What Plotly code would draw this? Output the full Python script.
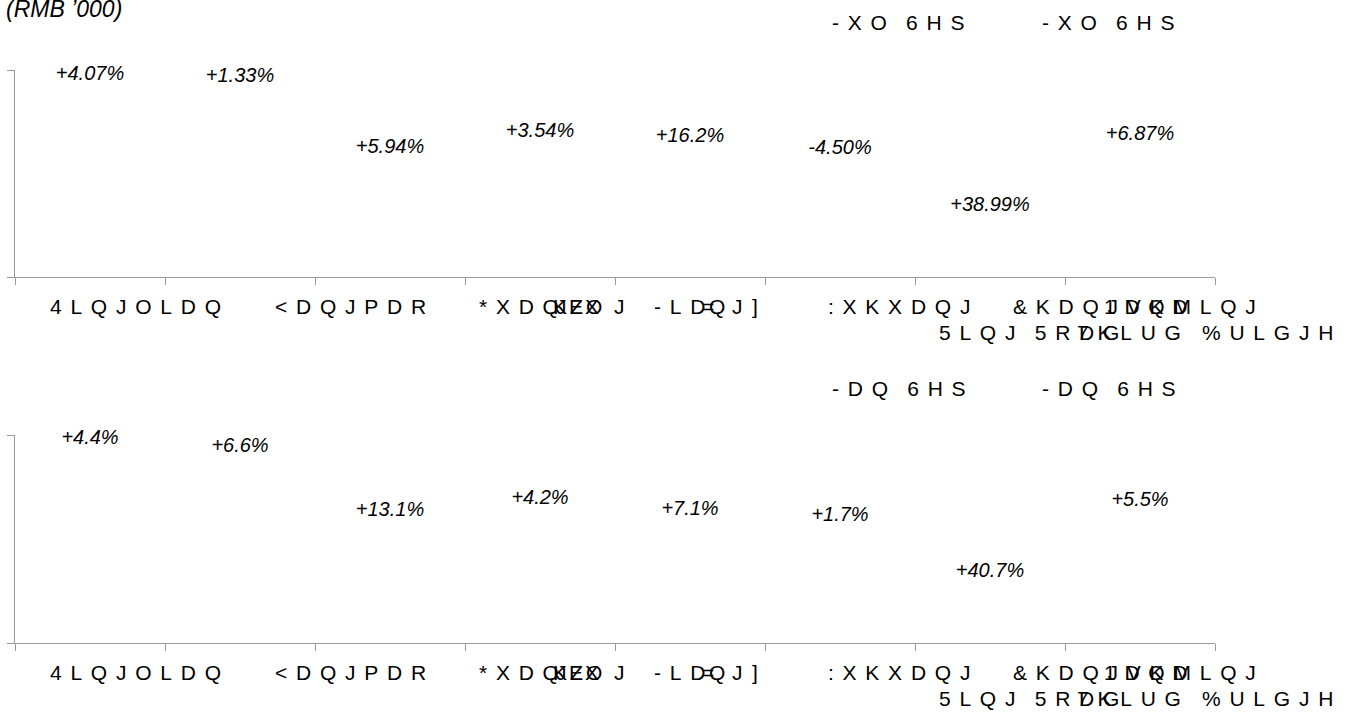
import plotly.graph_objects as go

# ---- data ----
# relative bar heights (bars themselves are drawn invisible in the source)
top_values = [92.0, 90.8, 56.5, 64.3, 61.8, 55.8, 28.5, 62.8]
top_growth = ["+4.07%", "+1.33%", "+5.94%", "+3.54%", "+16.2%", "-4.50%", "+38.99%", "+6.87%"]
bottom_values = [92.5, 88.5, 57.7, 63.5, 58.2, 55.3, 28.4, 62.5]
bottom_growth = ["+4.4%", "+6.6%", "+13.1%", "+4.2%", "+7.1%", "+1.7%", "+40.7%", "+5.5%"]

unit_label = "(RMB \u2019000)"
top_header = "-XO 6HS"
bottom_header = "-DQ 6HS"

# category labels as they appear (text pieces, some overlapping)
label_row1 = ["4LQJOLDQ", "<DQJPDR", "*XDQ", "K", "J", "E", "Z", "X", "O", "J",
              "-LD", "=", "Q", "J", "]", ":XKXDQJ", "&KDQJVKD", "1DQMLQJ"]
label_row2 = ["5LQJ 5RDG", "7KLUG", "%ULGJH"]

# layout positions (pixels) for the text pieces
row1_x = [48, 273, 477, 551, 554, 567, 568, 583, 584, 612,
          652, 700, 707, 730, 750, 826, 1011, 1102]
row2_x = [937, 1075, 1200]
header_x = [830, 1040]

FONT = "Liberation Sans, Arial, sans-serif"
AXIS_GREY = "#999999"
W, H = 1352, 713
L, R, T, B = 15, 137, 70, 70
PLOT_H = H - T - B


def spaced(s):
    # emulate the wide letter tracking of the source
    track = "\u2004\u200a"
    words = s.split(" ")
    return (track + "\u2002").join(track.join(w) for w in words)


def px(x):
    return (x - L) / (W - L - R)


def py(y):
    return (H - B - y) / PLOT_H


fig = go.Figure()
cats = list(range(8))
for vals, labels, xa, ya in [(top_values, top_growth, "x", "y"),
                             (bottom_values, bottom_growth, "x2", "y2")]:
    fig.add_trace(go.Bar(x=cats, y=vals, text=labels, textposition="outside",
                         marker=dict(color="rgba(0,0,0,0)", line=dict(width=0)),
                         cliponaxis=False,
                         textfont=dict(family=FONT, size=20, color="black", style="italic"),
                         xaxis=xa, yaxis=ya, showlegend=False, hoverinfo="skip"))

top_dom = [py(277), 1]
bot_dom = [0, py(435)]

xcommon = dict(range=[-0.5, 7.5], showline=True, linecolor=AXIS_GREY, linewidth=1,
               ticks="outside", ticklen=7, tickcolor=AXIS_GREY, tickwidth=1,
               tickmode="array", tickvals=[i - 0.5 for i in range(9)],
               showticklabels=False, showgrid=False, zeroline=False, fixedrange=True)
ycommon = dict(range=[0, 100], showline=True, linecolor=AXIS_GREY, linewidth=1,
               ticks="outside", ticklen=7, tickcolor=AXIS_GREY, tickwidth=1,
               tickmode="array", tickvals=[0, 100], showticklabels=False,
               showgrid=False, zeroline=False, fixedrange=True)

annotations = []


def add_text(text, x, y, size=21, italic=False, anchor="left"):
    annotations.append(dict(text=text, x=px(x), y=py(y), xref="paper", yref="paper",
                            xanchor=anchor, yanchor="middle", showarrow=False,
                            font=dict(family=FONT, size=size, color="black",
                                      style="italic" if italic else "normal")))


add_text(unit_label, 124, 9, size=23, italic=True, anchor="right")

for offset, header in [(0, top_header), (366, bottom_header)]:
    for hx in header_x:
        add_text(spaced(header), hx, 22.5 + offset, size=21)
    for t, x in zip(label_row1, row1_x):
        add_text(spaced(t), x, 306 + offset, size=21)
    for t, x in zip(label_row2, row2_x):
        add_text(spaced(t), x, 332.5 + offset, size=21)

fig.update_layout(
    template="none",
    width=W, height=H,
    margin=dict(l=L, r=R, t=T, b=B),
    paper_bgcolor="white", plot_bgcolor="white",
    bargap=0.2,
    xaxis=dict(xcommon, anchor="y", domain=[0, 1]),
    yaxis=dict(ycommon, anchor="x", domain=top_dom),
    xaxis2=dict(xcommon, anchor="y2", domain=[0, 1]),
    yaxis2=dict(ycommon, anchor="x2", domain=bot_dom),
    annotations=annotations,
    showlegend=False,
)

fig.write_html("out.html", config={"displayModeBar": False},
               post_script="document.body.style.margin='0';document.body.style.overflow='hidden';")
